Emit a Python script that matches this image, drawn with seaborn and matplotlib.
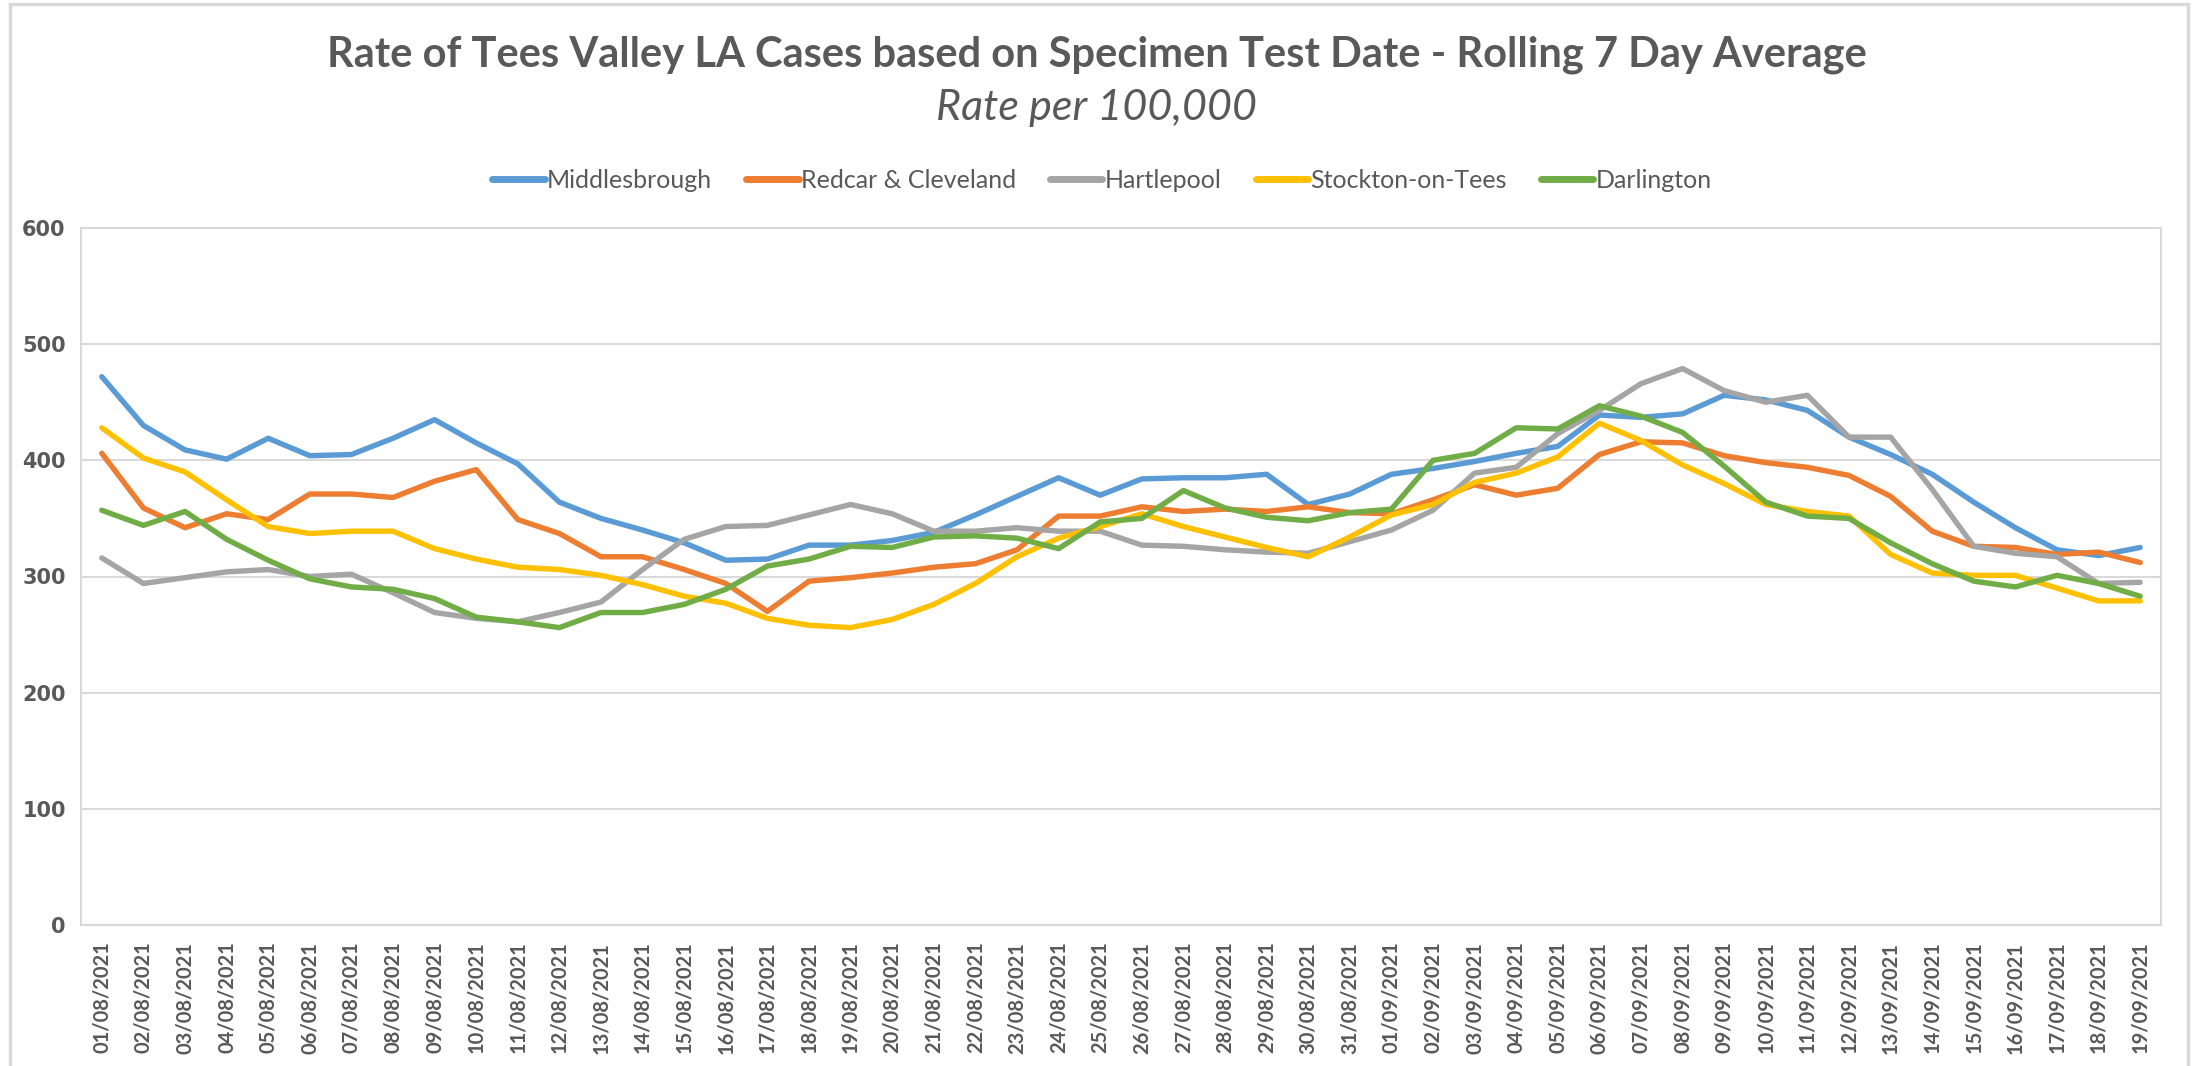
import pandas as pd
import matplotlib
matplotlib.use("Agg")
import matplotlib.pyplot as plt
import seaborn as sns
from matplotlib.patches import Rectangle

# data (rolling 7 day rate per 100,000)
dates = pd.date_range("2021-08-01", "2021-09-19", freq="D")
date_labels = [d.strftime("%d/%m/%Y") for d in dates]

middlesbrough = [472, 430, 409, 401, 419, 404, 405, 419, 435, 415,
                 397, 364, 350, 340, 329, 314, 315, 327, 327, 331,
                 338, 353, 369, 385, 370, 384, 385, 385, 388, 362,
                 371, 388, 393, 399, 406, 412, 439, 437, 440, 456,
                 452, 443, 420, 405, 388, 364, 342, 323, 318, 325]
redcar = [406, 359, 342, 354, 349, 371, 371, 368, 382, 392,
          349, 337, 317, 317, 306, 294, 270, 296, 299, 303,
          308, 311, 323, 352, 352, 360, 356, 358, 356, 360,
          355, 354, 366, 379, 370, 376, 405, 416, 415, 404,
          398, 394, 387, 369, 339, 326, 325, 319, 321, 312]
hartlepool = [316, 294, 299, 304, 306, 300, 302, 286, 269, 264,
              261, 269, 278, 306, 332, 343, 344, 353, 362, 354,
              339, 339, 342, 339, 339, 327, 326, 323, 321, 320,
              330, 340, 357, 389, 394, 423, 443, 466, 479, 460,
              450, 456, 420, 420, 375, 326, 320, 317, 294, 295]
stockton = [428, 402, 390, 366, 343, 337, 339, 339, 324, 315,
            308, 306, 301, 293, 283, 277, 264, 258, 256, 263,
            276, 294, 317, 333, 343, 354, 343, 334, 325, 317,
            334, 353, 362, 381, 389, 403, 432, 417, 396, 380,
            362, 356, 352, 319, 303, 301, 301, 290, 279, 279]
darlington = [357, 344, 356, 332, 314, 298, 291, 289, 281, 265,
              261, 256, 269, 269, 276, 289, 309, 315, 326, 325,
              334, 335, 333, 324, 347, 350, 374, 359, 351, 348,
              355, 358, 400, 406, 428, 427, 447, 438, 424, 395,
              364, 352, 350, 329, 311, 296, 291, 301, 294, 283]

series_names = ["Middlesbrough", "Redcar & Cleveland", "Hartlepool", "Stockton-on-Tees", "Darlington"]
colours = ["#5B9BD5", "#ED7D31", "#A5A5A5", "#FFC000", "#70AD47"]
y_ticks = [0, 100, 200, 300, 400, 500, 600]

# long format for seaborn
frames = []
for name, vals in zip(series_names, [middlesbrough, redcar, hartlepool, stockton, darlington]):
    frames.append(pd.DataFrame({"idx": range(len(vals)), "rate": vals, "LA": name}))
df = pd.concat(frames, ignore_index=True)

sns.set_theme(style="white")
plt.rcParams["font.family"] = ["Lato", "DejaVu Sans"]

grey_txt = "#595959"
grid_col = "#D9D9D9"

fig = plt.figure(figsize=(21.93, 10.66), dpi=100)
fig.patch.set_facecolor("white")
ax = fig.add_axes([81 / 2193, 1 - 925 / 1066, (2161 - 81) / 2193, (925 - 228) / 1066])

sns.lineplot(data=df, x="idx", y="rate", hue="LA", palette=colours, hue_order=series_names,
             linewidth=3.9, ax=ax, legend=False, sort=False)

ax.set_xlim(-0.5, len(dates) - 0.5)
ax.set_ylim(0, 600)
ax.set_yticks(y_ticks)
ax.set_yticklabels([str(v) for v in y_ticks], family="DejaVu Sans", fontweight="bold",
                   fontsize=15, color=grey_txt)
ax.set_xticks(range(len(dates)))
ax.set_xticklabels(date_labels, rotation=90, fontweight="bold", fontsize=14.5, color=grey_txt)
ax.tick_params(axis="x", length=0, pad=12)
ax.tick_params(axis="y", length=0, pad=11)
ax.set_xlabel("")
ax.set_ylabel("")
ax.yaxis.grid(True, color=grid_col, linewidth=1.5)
ax.set_axisbelow(True)
for sp in ax.spines.values():
    sp.set_color(grid_col)
    sp.set_linewidth(1.5)

# titles
fig.text(0.5, 1 - 66 / 1066, "Rate of Tees Valley LA Cases based on Specimen Test Date - Rolling 7 Day Average",
         ha="center", va="baseline", fontsize=30, fontweight="bold", color=grey_txt)
fig.text(0.5, 1 - 120 / 1066, "Rate per 100,000", ha="center", va="baseline",
         fontsize=31, style="italic", color=grey_txt)

# legend
handles = [plt.Line2D([], [], color=c, linewidth=5, solid_capstyle="round") for c in colours]
fig.legend(handles, series_names, loc="center", bbox_to_anchor=(1102 / 2193, 1 - 180 / 1066),
           ncol=5, frameon=False, fontsize=18, handlelength=2.1, handletextpad=0.1,
           columnspacing=1.35, labelcolor=grey_txt)

# outer chart border
fig.patches.append(Rectangle((10 / 2193, -0.01), (2188 - 10) / 2193, 1.01 - 4 / 1066,
                             transform=fig.transFigure, fill=False, edgecolor=grid_col, linewidth=2.5))

fig.savefig("out.png", dpi=100, facecolor="white")
